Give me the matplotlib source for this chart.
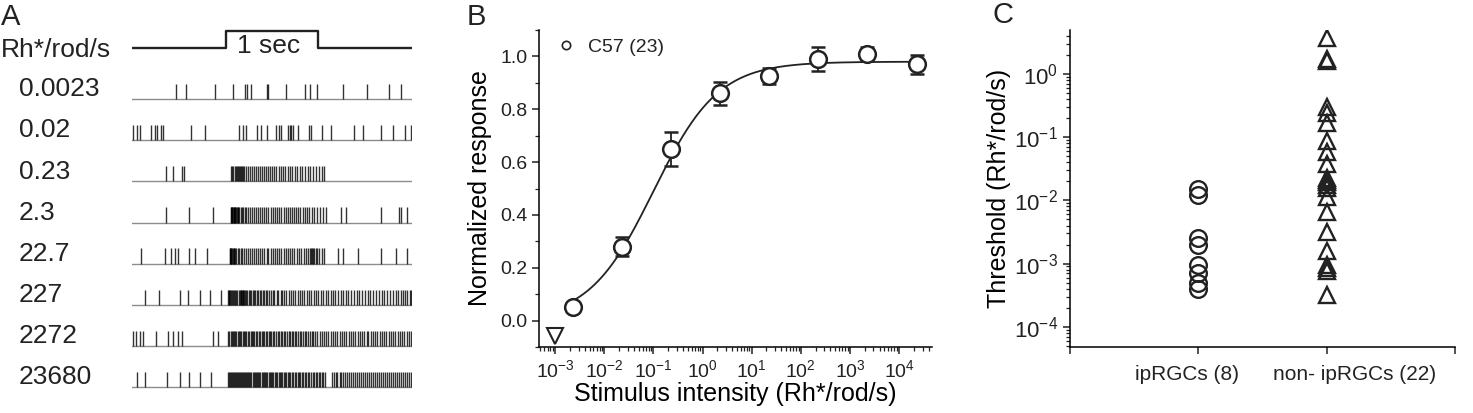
import numpy as np
import matplotlib
matplotlib.use('Agg')
from matplotlib import pyplot as plt
from matplotlib import transforms
from matplotlib.ticker import LogLocator, FixedLocator, NullFormatter, FormatStrFormatter

plt.rcParams.update({
    'font.family': ['Liberation Sans', 'DejaVu Sans'],
    'mathtext.fontset': 'custom',
    'mathtext.rm': 'Liberation Sans',
    'mathtext.it': 'Liberation Sans:italic',
    'mathtext.bf': 'Liberation Sans:bold',
    'axes.linewidth': 1.1,
    'text.color': '#222222',
    'xtick.color': '#222222',
    'ytick.color': '#222222',
})

# ---------------- data ----------------
# panel A: spike times (ms, relative to light onset), one list per intensity
intensities = ['0.0023', '0.02', '0.23', '2.3', '22.7', '227', '2272', '23680']
trace_start, trace_end = -1020, 2020
stim_on, stim_off = 0, 1000
spikes_ms = [
    [-547, -438, -123, 79, 210, 232, 268, 442, 457, 652, 855, 916, 992, 1272, 1529, 1772, 1899],
    [-1005, -967, -935, -815, -766, -745, -701, -685, -380, -228, 147, 185, 223, 342, 380, 446,
     543, 576, 598, 674, 690, 707, 725, 783, 897, 924, 1043, 1141, 1388, 1492, 1685, 1810, 1940, 2011],
    [-655, -573, -482, -453, 58, 71, 80, 93, 104, 117, 126, 139, 150, 158, 171, 186, 201, 222, 240,
     263, 283, 304, 321, 348, 366, 391, 410, 434, 457, 479, 498, 526, 547, 572, 596, 621, 643, 670,
     692, 721, 746, 773, 800, 830, 856, 886, 912, 946, 978, 1011, 1043, 1067],
    [-649, -402, -141, 52, 58, 64, 70, 77, 83, 89, 96, 103, 111, 118, 127, 136, 147, 158, 171, 186,
     203, 221, 240, 259, 281, 302, 324, 347, 372, 393, 418, 440, 461, 486, 509, 531, 556, 578, 602,
     626, 651, 672, 697, 719, 744, 763, 786, 808, 832, 856, 879, 903, 931, 958, 987, 1018, 1052,
     1086, 1246, 1308, 1688, 1877, 1899, 1971],
    [-920, -667, -594, -558, -522, -402, -341, -203, 40, 46, 53, 60, 67, 75, 83, 92, 102, 114, 127,
     142, 159, 177, 196, 218, 237, 259, 279, 302, 322, 348, 369, 394, 416, 441, 461, 487, 509, 534,
     555, 581, 602, 628, 649, 674, 696, 721, 744, 771, 794, 819, 846, 869, 892, 911, 926, 938, 949,
     961, 975, 991, 1013, 1041, 1069, 1217, 1272, 1435, 1688, 1851, 1971],
    [-877, -732, -504, -413, -286, -178, -58, 22, 29, 37, 45, 54, 63, 73, 84, 96, 109, 123, 137,
     149, 158, 166, 174, 182, 190, 198, 207, 218, 231, 246, 261, 277, 289, 306, 319, 337, 351, 369,
     383, 401, 416, 435, 451, 471, 489, 511, 527, 549, 569, 593, 611, 634, 654, 681, 704, 731, 751,
     777, 799, 827, 849, 877, 901, 928, 952, 979, 1002, 1031, 1054, 1083, 1107, 1136, 1161, 1189,
     1214, 1244, 1271, 1301, 1329, 1359, 1387, 1419, 1446, 1479, 1507, 1541, 1569, 1599, 1627,
     1661, 1689, 1721, 1751, 1783, 1809, 1841, 1867, 1896, 1921, 1949, 1971, 1996, 2014],
    [-1008, -978, -935, -899, -764, -627, -580, -525, -482, -145, -84, 25, 37, 50, 62, 76, 87, 101,
     112, 127, 139, 155, 167, 182, 194, 210, 222, 238, 251, 267, 279, 296, 309, 326, 339, 356, 369,
     387, 400, 418, 432, 449, 463, 481, 494, 513, 527, 546, 560, 579, 593, 612, 627, 646, 661, 680,
     695, 714, 730, 749, 765, 785, 801, 820, 837, 857, 873, 894, 911, 931, 949, 968, 992, 1016,
     1041, 1061, 1089, 1111, 1136, 1159, 1186, 1207, 1233, 1257, 1283, 1304, 1331, 1354, 1379,
     1401, 1429, 1451, 1477, 1499, 1526, 1547, 1573, 1597, 1623, 1645, 1671, 1694, 1721, 1743,
     1769, 1791, 1817, 1839, 1866, 1889, 1915, 1937, 1963, 1985, 2011],
    [-971, -880, -645, -500, -399, -283, -166, 25, 35, 46, 56, 67, 77, 88, 98, 110, 120, 131, 141,
     153, 163, 175, 185, 197, 207, 219, 230, 242, 253, 265, 276, 289, 300, 313, 324, 337, 348, 361,
     373, 386, 398, 411, 423, 437, 449, 463, 475, 489, 502, 516, 529, 543, 556, 571, 584, 599, 612,
     627, 641, 656, 670, 686, 700, 716, 730, 746, 761, 777, 792, 809, 824, 841, 856, 873, 889, 906,
     922, 940, 956, 974, 990, 1008, 1025, 1042, 1059, 1076, 1149, 1168, 1191, 1211, 1233, 1254,
     1276, 1295, 1318, 1339, 1361, 1381, 1404, 1425, 1448, 1467, 1490, 1511, 1534, 1554, 1577,
     1597, 1620, 1640, 1663, 1683, 1706, 1727, 1749, 1769, 1792, 1813, 1835, 1856, 1879, 1899,
     1921, 1942, 1965, 1985, 2008],
]

# panel B: intensity-response
b_intensity = [0.0023, 0.023, 0.23, 2.3, 22.7, 227, 2272, 23680]
b_response = [0.05, 0.28, 0.65, 0.86, 0.925, 0.99, 1.01, 0.97]
b_sem = [0.01, 0.035, 0.065, 0.045, 0.03, 0.045, 0.025, 0.035]
b_below_x = [0.001]
b_below_y = [-0.06]
fit_rmax, fit_half, fit_n = 0.98, 0.1, 0.66

# panel C: thresholds
c_groups = ['ipRGCs (8)', 'non- ipRGCs (22)']
c_iprgc = [0.015, 0.012, 0.0025, 0.002, 0.00095, 0.0007, 0.0005, 0.0004]
c_non = [3.67, 1.73, 1.6, 0.30, 0.24, 0.17, 0.087, 0.058, 0.038, 0.0227, 0.021, 0.0195,
         0.0175, 0.0158, 0.0113, 0.0066, 0.0032, 0.0016, 0.00095, 0.00085, 0.00076, 0.00032]

W, H = 1473, 413
fig = plt.figure(figsize=(W / 100, H / 100), dpi=100)

# ---------------- A ----------------
ax_a = fig.add_axes([132 / W, 13 / H, 280 / W, 380 / H])
ax_a.set_xlim(trace_start, trace_end)
ax_a.set_ylim(-7.31, 1.92)
ax_a.axis('off')
spike_h = 0.37
for i, times in enumerate(spikes_ms):
    base = -i
    ax_a.plot([trace_start, trace_end], [base, base], color='0.55', lw=1.0)
    ax_a.vlines(times, base, base + spike_h, colors='k', lw=1.0, alpha=0.8)
low, high = 1.24, 1.65
ax_a.plot([trace_start, stim_on, stim_on, stim_off, stim_off, trace_end],
          [low, low, high, high, low, low], color='#222222', lw=1.7)
ax_a.text((stim_on + stim_off) / 2 - 40, 1.29, '1 sec', ha='center', va='center', fontsize=19)

tr = transforms.blended_transform_factory(fig.transFigure, ax_a.transData)
for i, lab in enumerate(intensities):
    ax_a.text(19 / W, -i + 0.24, lab, transform=tr, ha='left', va='center', fontsize=19)
fig.text(1 / W, 1 - 50 / H, 'Rh*/rod/s', ha='left', va='center', fontsize=19)
fig.text(1 / W, 1 - 17 / H, 'A', ha='left', va='center', fontsize=21)

# ---------------- B ----------------
ax_b = fig.add_axes([539 / W, 66 / H, 393 / W, 317 / H])
ax_b.set_xscale('log')
ax_b.set_xlim(10 ** -3.33, 10 ** 4.67)
ax_b.set_ylim(-0.1, 1.1)
xx = np.logspace(np.log10(b_intensity[0]), np.log10(b_intensity[-1]), 300)
ax_b.plot(xx, fit_rmax * xx ** fit_n / (xx ** fit_n + fit_half ** fit_n), color='#222222', lw=1.3)
ax_b.errorbar(b_intensity, b_response, yerr=b_sem, fmt='o', mfc='white', mec='#222222', ms=12,
              mew=1.8, ecolor='#222222', elinewidth=1.3, capsize=5, capthick=1.3, zorder=3)
ax_b.plot(b_below_x, b_below_y, 'v', mfc='white', mec='#222222', ms=11, mew=1.5, clip_on=False)
h, = ax_b.plot([], [], 'o', mfc='white', mec='#222222', ms=6, mew=1.2)
ax_b.legend([h], ['C57 (23)'], loc='upper left', frameon=False, fontsize=14,
            handlelength=1.0, handletextpad=0.6, bbox_to_anchor=(0.0, 1.03))
ax_b.spines['top'].set_visible(False)
ax_b.spines['right'].set_visible(False)
ax_b.yaxis.set_major_locator(FixedLocator([0, 0.2, 0.4, 0.6, 0.8, 1.0]))
ax_b.yaxis.set_minor_locator(FixedLocator([-0.1, 0.1, 0.3, 0.5, 0.7, 0.9, 1.1]))
ax_b.yaxis.set_major_formatter(FormatStrFormatter('%.1f'))
ax_b.xaxis.set_major_locator(LogLocator(base=10, numticks=20))
ax_b.xaxis.set_minor_locator(LogLocator(base=10, subs=np.arange(2, 10), numticks=100))
ax_b.xaxis.set_minor_formatter(NullFormatter())
ax_b.tick_params(which='major', direction='out', length=5, width=1.1, labelsize=14)
ax_b.tick_params(which='minor', direction='out', length=3, width=0.9)
ax_b.tick_params(axis='x', labelsize=14)
ax_b.set_xlabel('Stimulus intensity (Rh*/rod/s)', fontsize=18, labelpad=1)
ax_b.set_ylabel('Normalized response', fontsize=18, labelpad=6)
fig.text(467 / W, 1 - 17 / H, 'B', ha='left', va='center', fontsize=21)

# ---------------- C ----------------
ax_c = fig.add_axes([1070 / W, 66 / H, 385 / W, 317 / H])
ax_c.set_yscale('log')
ax_c.set_ylim(10 ** -4.32, 10 ** 0.695)
ax_c.set_xlim(0, 3)
ax_c.plot([1] * len(c_iprgc), c_iprgc, 'o', mfc='none', mec='#222222', ms=12, mew=1.7)
ax_c.plot([2] * len(c_non), c_non, '^', mfc='none', mec='#222222', ms=12, mew=1.7)
ax_c.spines['top'].set_visible(False)
ax_c.spines['right'].set_visible(False)
ax_c.set_xticks([0, 1, 2, 3])
ax_c.set_xticklabels([])
ax_c.yaxis.set_major_locator(LogLocator(base=10, numticks=20))
ax_c.yaxis.set_minor_locator(LogLocator(base=10, subs=np.arange(2, 10), numticks=100))
ax_c.yaxis.set_minor_formatter(NullFormatter())
ax_c.tick_params(which='major', direction='out', length=5, width=1.1, labelsize=16)
ax_c.tick_params(which='minor', direction='out', length=3, width=0.9)
xt = ax_c.get_xaxis_transform()
ax_c.text(0.91, -0.088, c_groups[0], transform=xt, ha='center', va='center', fontsize=15)
ax_c.text(2.22, -0.088, c_groups[1], transform=xt, ha='center', va='center', fontsize=15)
ax_c.set_ylabel('Threshold (Rh*/rod/s)', fontsize=18, labelpad=2)
fig.text(992 / W, 1 - 15 / H, 'C', ha='left', va='center', fontsize=21)

fig.savefig('out.png', dpi=100)
